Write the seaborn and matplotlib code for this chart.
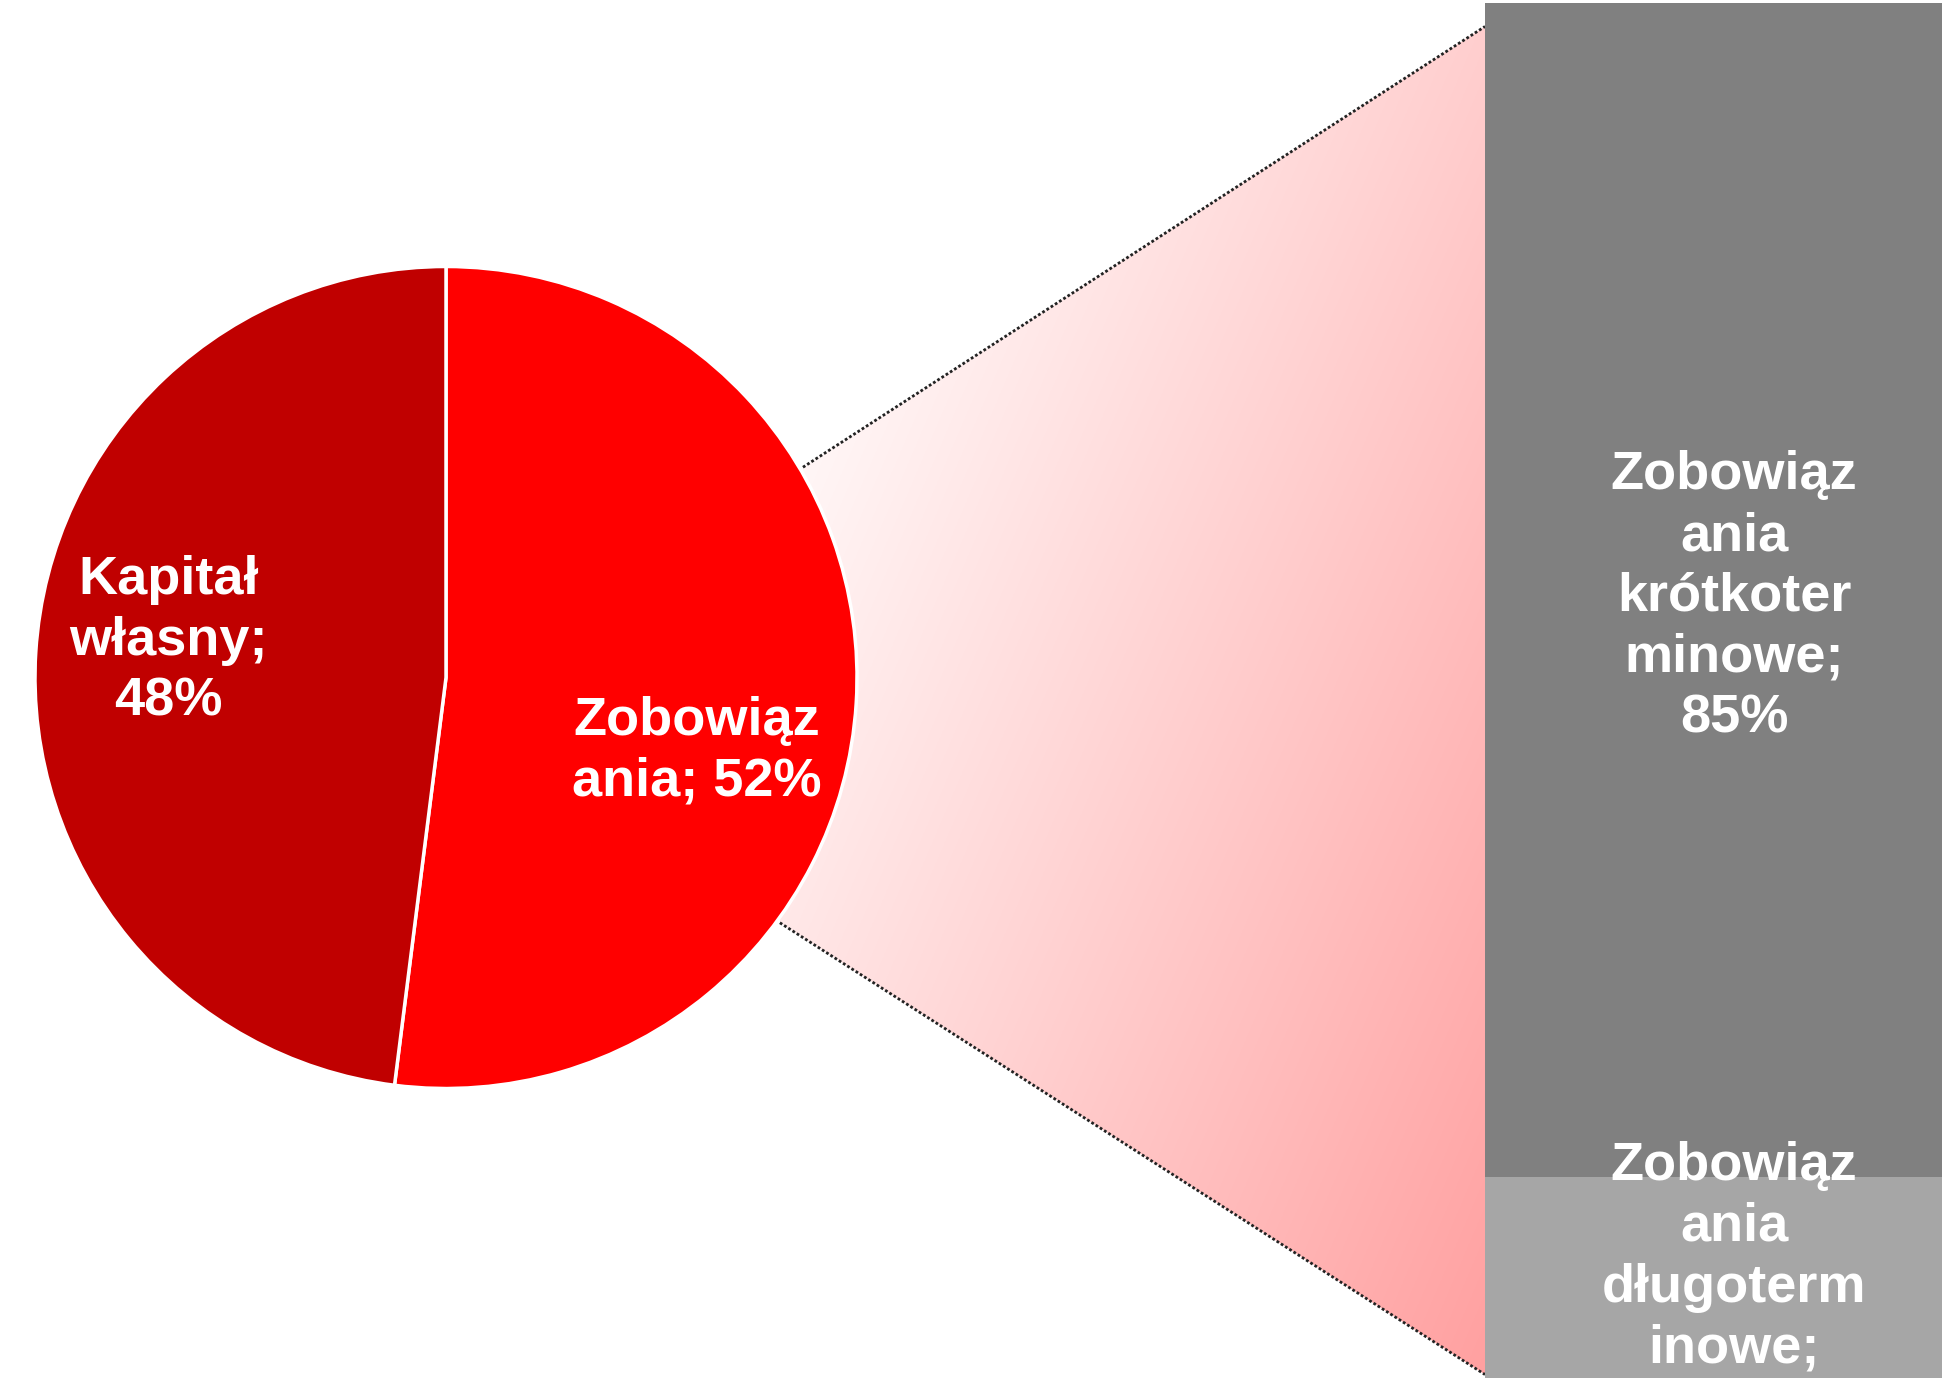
import numpy as np
import matplotlib.pyplot as plt
from matplotlib.patches import Polygon
import seaborn as sns

# ---------------------------------------------------------------
# Data
# ---------------------------------------------------------------
pie_values = [52, 48]
pie_labels = ["Zobowiąz\nania; 52%", "Kapitał\nwłasny;\n48%"]
pie_colors = ["#FF0000", "#C00000"]

bar_values = [15, 85]   # bottom -> top
bar_labels = ["Zobowiąz\nania\ndługoterm\ninowe;\n15%",
              "Zobowiąz\nania\nkrótkoter\nminowe;\n85%"]
bar_colors = ["#A6A6A6", "#808080"]

# ---------------------------------------------------------------
# Style
# ---------------------------------------------------------------
sns.set_theme(style="white")
plt.rcParams['font.family'] = ['Liberation Sans', 'DejaVu Sans']
FS = 39
LS = 1.28

W, H = 1942, 1378
fig = plt.figure(figsize=(W / 100, H / 100), dpi=100)

# background axes in pixel units (gradient + connector lines)
ax_bg = fig.add_axes([0, 0, 1, 1])
ax_bg.set_xlim(0, W)
ax_bg.set_ylim(0, H)
ax_bg.axis('off')

# ---------- Pie ----------
cx, cy, r = 446, H - 677.5, 411
ax_pie = fig.add_axes([(cx - r) / W, (cy - r) / H, 2 * r / W, 2 * r / H])
wedges, _ = ax_pie.pie(pie_values, colors=pie_colors, startangle=90,
                       counterclock=False, radius=1,
                       wedgeprops=dict(edgecolor='white', linewidth=2.5))
ax_pie.set_xlim(-1, 1)
ax_pie.set_ylim(-1, 1)

pie_label_pos = [(0.611, -0.179), (-0.676, 0.089)]
for lab, (x, y) in zip(pie_labels, pie_label_pos):
    ax_pie.text(x, y, lab, ha='center', va='center', color='white',
                fontsize=FS, fontweight='bold', linespacing=LS)

# ---------- Stacked bar (runs past the right edge, as in the original) ----------
bar_left, bar_w = 1485, 498
ax_bar = fig.add_axes([bar_left / W, 0, bar_w / W, (H - 3) / H])
bottoms = np.cumsum([0] + bar_values[:-1])
ax_bar.bar([0] * len(bar_values), bar_values, bottom=bottoms, width=1,
           color=bar_colors, edgecolor='none')
ax_bar.set_xlim(-0.5, 0.5)
ax_bar.set_ylim(0.45, 100)
ax_bar.axis('off')

for lab, b, v in zip(bar_labels, bottoms, bar_values):
    ax_bar.text(0, b + v / 2 - 0.5, lab, ha='center', va='center', color='white',
                fontsize=FS, fontweight='bold', linespacing=LS)

# ---------- Connector (gradient wedge + dotted lines) ----------
to_px = ax_bg.transData.inverted()
ang_top, ang_bot = np.radians(30.5), np.radians(-36.3)
p_top = to_px.transform(ax_pie.transData.transform((1.008 * np.cos(ang_top), 1.008 * np.sin(ang_top))))
p_bot = to_px.transform(ax_pie.transData.transform((1.008 * np.cos(ang_bot), 1.008 * np.sin(ang_bot))))
b_top = to_px.transform(ax_bar.transData.transform((-0.5, 98.3)))
b_bot = to_px.transform(ax_bar.transData.transform((-0.5, 0.7)))

verts = np.array([p_top, b_top, b_bot, p_bot])
poly = Polygon(verts, closed=True, facecolor='none', edgecolor='none')
ax_bg.add_patch(poly)

xmin, xmax = verts[:, 0].min(), verts[:, 0].max()
ymin, ymax = verts[:, 1].min(), verts[:, 1].max()
XX, YY = np.meshgrid(np.linspace(0, 1, 400), np.linspace(0, 1, 400))
t = np.clip(0.55 * XX + 0.45 * YY - 0.08, 0, 1)
end = np.array([255, 152, 152]) / 255
img = (1 - t)[..., None] + t[..., None] * end
im = ax_bg.imshow(img, extent=[xmin, xmax, ymin, ymax], origin='upper',
                  aspect='auto', zorder=1)
im.set_clip_path(poly)

for p, b in [(p_top, b_top), (p_bot, b_bot)]:
    ax_bg.plot([p[0], b[0]], [p[1], b[1]], color='#222222', lw=2.0,
               linestyle=(0, (1.0, 0.8)), zorder=2)

ax_bg.set_xlim(0, W)
ax_bg.set_ylim(0, H)

fig.savefig('out.png', dpi=100)
